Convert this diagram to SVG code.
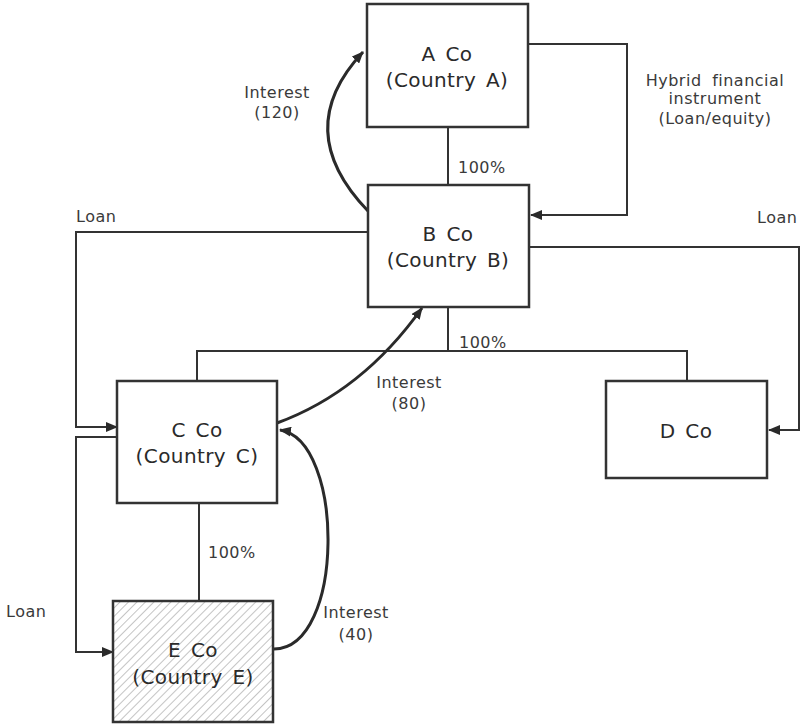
<svg xmlns="http://www.w3.org/2000/svg" width="800" height="724" viewBox="0 0 800 724">
<style>
.box{fill:#fff;stroke:#333;stroke-width:2.5}
.ln{fill:none;stroke:#333;stroke-width:2}
.arc{fill:none;stroke:#2a2a2a;stroke-width:3}
.nt{font-family:"DejaVu Sans",Verdana,sans-serif;font-size:20px;fill:#2a2a2a;text-anchor:middle;word-spacing:3px;letter-spacing:0.4px}
.lb{font-family:"DejaVu Sans",Verdana,sans-serif;font-size:16px;fill:#3a3a3a;letter-spacing:0.5px}
.mid{text-anchor:middle}
</style>
<defs>
<marker id="ah" markerWidth="12" markerHeight="10" refX="11" refY="5" orient="auto" markerUnits="userSpaceOnUse">
<path d="M0,0 L12,5 L0,10 z" fill="#2a2a2a"/>
</marker>
<pattern id="hatch" width="6" height="6" patternUnits="userSpaceOnUse" patternTransform="rotate(45)">
<rect width="6" height="6" fill="#fff"/>
<line x1="0" y1="0" x2="0" y2="6" stroke="#c4c4c4" stroke-width="2"/>
</pattern>
</defs>
<g id="connectors">
<line class="ln" x1="448" y1="127" x2="448" y2="185"/>
<polyline class="ln" points="528,44 627,44 627,215 531,215" marker-end="url(#ah)"/>
<polyline class="ln" points="368,232 76,232 76,427 117,427" marker-end="url(#ah)"/>
<polyline class="ln" points="117,437 76,437 76,652 113,652" marker-end="url(#ah)"/>
<polyline class="ln" points="529,247 799,247 799,430 769,430" marker-end="url(#ah)"/>
<line class="ln" x1="448" y1="307" x2="448" y2="351"/>
<polyline class="ln" points="197,381 197,351 687,351 687,381"/>
<line class="ln" x1="199" y1="503" x2="199" y2="601"/>
<path class="arc" d="M368,211 Q290,130 363,52" marker-end="url(#ah)"/>
<path class="arc" d="M277,423 Q362,392 422,308" marker-end="url(#ah)"/>
<path class="arc" d="M274,649 C345,649 345,440 280,430" marker-end="url(#ah)"/>
</g>
<g id="labels">
<text class="lb mid" x="277" y="98">Interest</text>
<text class="lb mid" x="277" y="118">(120)</text>
<text class="lb" x="458" y="173">100%</text>
<text class="lb mid" x="715" y="86" word-spacing="5">Hybrid financial</text>
<text class="lb mid" x="715" y="104">instrument</text>
<text class="lb mid" x="715" y="124">(Loan/equity)</text>
<text class="lb" x="76" y="222">Loan</text>
<text class="lb" x="757" y="223">Loan</text>
<text class="lb" x="459" y="348">100%</text>
<text class="lb mid" x="409" y="388">Interest</text>
<text class="lb mid" x="409" y="409">(80)</text>
<text class="lb" x="208" y="558">100%</text>
<text class="lb" x="6" y="617">Loan</text>
<text class="lb mid" x="356" y="618">Interest</text>
<text class="lb mid" x="356" y="640">(40)</text>
</g>
<g id="A">
<rect class="box" x="367" y="4" width="161" height="123"/>
<text class="nt" x="447" y="61">A Co</text>
<text class="nt" x="447" y="87">(Country A)</text>
</g>
<g id="B">
<rect class="box" x="368" y="185" width="161" height="122"/>
<text class="nt" x="448" y="241">B Co</text>
<text class="nt" x="448" y="267">(Country B)</text>
</g>
<g id="C">
<rect class="box" x="117" y="381" width="160" height="122"/>
<text class="nt" x="197" y="437">C Co</text>
<text class="nt" x="197" y="463">(Country C)</text>
</g>
<g id="D">
<rect class="box" x="606" y="381" width="161" height="97"/>
<text class="nt" x="686" y="438">D Co</text>
</g>
<g id="E">
<rect class="box" x="113" y="601" width="160" height="121" style="fill:url(#hatch)"/>
<text class="nt" x="193" y="657">E Co</text>
<text class="nt" x="193" y="684">(Country E)</text>
</g>
</svg>
